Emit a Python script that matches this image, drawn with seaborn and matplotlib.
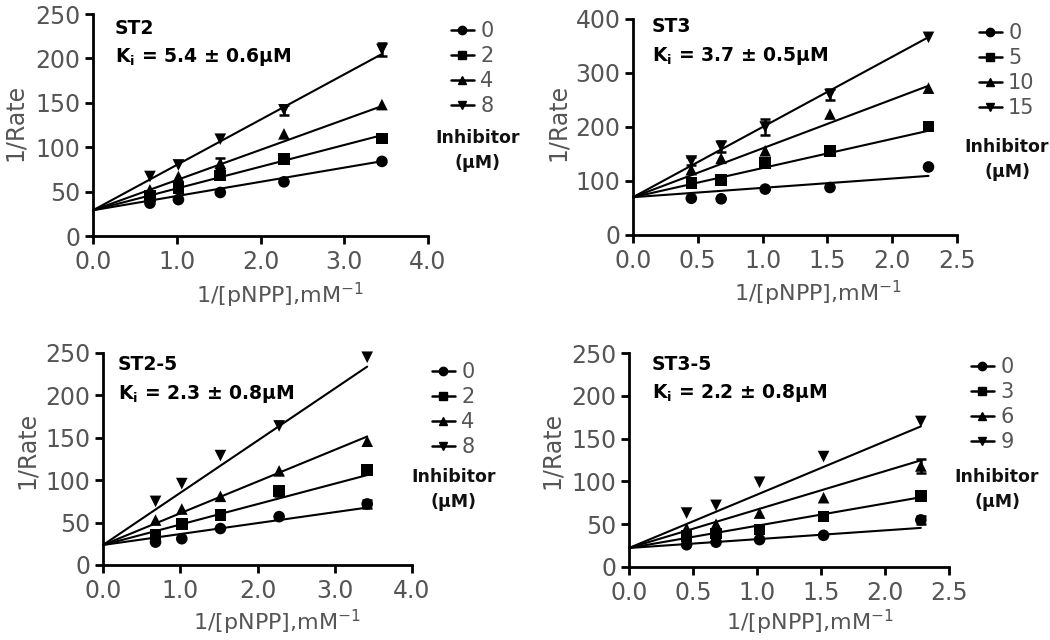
import numpy as np
import pandas as pd
import matplotlib
matplotlib.use("Agg")
import matplotlib.pyplot as plt
import seaborn as sns
from matplotlib.lines import Line2D

sns.set_theme(style="ticks")
plt.rcParams['font.family'] = ['DejaVu Sans']
plt.rcParams['mathtext.fontset'] = 'dejavusans'

# ---------------- data ----------------
st2_x = [0.68, 1.02, 1.52, 2.28, 3.45]
st2_conc = ["0", "2", "4", "8"]
st2_y0 = [37, 41, 49, 61, 84]
st2_y1 = [45, 54, 68, 87, 110]
st2_y2 = [52, 67, 82, 115, 148]
st2_y3 = [67, 80, 109, 142, 210]
st2_e0 = [0, 0, 0, 0, 0]
st2_e1 = [0, 0, 0, 0, 0]
st2_e2 = [0, 0, 6, 0, 0]
st2_e3 = [0, 0, 0, 6, 7]
st2_intercept = 29
st2_slopes = [16, 24.5, 34, 51]

st3_x = [0.45, 0.68, 1.02, 1.52, 2.28]
st3_conc = ["0", "5", "10", "15"]
st3_y0 = [68, 67, 85, 88, 126]
st3_y1 = [96, 102, 133, 156, 201]
st3_y2 = [121, 142, 156, 224, 272]
st3_y3 = [137, 164, 200, 260, 366]
st3_e0 = [0, 0, 0, 0, 0]
st3_e1 = [0, 0, 0, 0, 0]
st3_e2 = [0, 0, 0, 0, 0]
st3_e3 = [8, 10, 14, 10, 0]
st3_intercept = 70
st3_slopes = [17.3, 54, 90.5, 130]

st25_x = [0.68, 1.02, 1.52, 2.28, 3.42]
st25_conc = ["0", "2", "4", "8"]
st25_y0 = [27, 31, 43, 57, 72]
st25_y1 = [36, 48, 59, 87, 112]
st25_y2 = [53, 66, 81, 111, 146]
st25_y3 = [75, 96, 129, 164, 245]
st25_e0 = [0, 0, 0, 0, 5]
st25_e1 = [0, 0, 0, 6, 4]
st25_e2 = [0, 0, 0, 0, 0]
st25_e3 = [0, 0, 0, 0, 0]
st25_intercept = 23.6
st25_slopes = [12.9, 24.1, 37.4, 61.5]

st35_x = [0.45, 0.68, 1.02, 1.52, 2.28]
st35_conc = ["0", "3", "6", "9"]
st35_y0 = [26, 29, 32, 37, 55]
st35_y1 = [36, 39, 44, 59, 83]
st35_y2 = [45, 50, 63, 81, 118]
st35_y3 = [63, 72, 99, 129, 170]
st35_e0 = [0, 0, 0, 0, 5]
st35_e1 = [0, 0, 0, 0, 0]
st35_e2 = [0, 0, 0, 0, 8]
st35_e3 = [0, 0, 0, 0, 0]
st35_intercept = 22.2
st35_slopes = [10.3, 26, 44.9, 62.3]

titles = ["ST2", "ST3", "ST2-5", "ST3-5"]
ki_texts = ["5.4 ± 0.6μM", "3.7 ± 0.5μM", "2.3 ± 0.8μM", "2.2 ± 0.8μM"]
x_ticks_list = [[0.0, 1.0, 2.0, 3.0, 4.0], [0.0, 0.5, 1.0, 1.5, 2.0, 2.5],
                [0.0, 1.0, 2.0, 3.0, 4.0], [0.0, 0.5, 1.0, 1.5, 2.0, 2.5]]
y_ticks_list = [[0, 50, 100, 150, 200, 250], [0, 100, 200, 300, 400],
                [0, 50, 100, 150, 200, 250], [0, 50, 100, 150, 200, 250]]

panels = [
    (st2_x, st2_conc, [st2_y0, st2_y1, st2_y2, st2_y3], [st2_e0, st2_e1, st2_e2, st2_e3], st2_intercept, st2_slopes),
    (st3_x, st3_conc, [st3_y0, st3_y1, st3_y2, st3_y3], [st3_e0, st3_e1, st3_e2, st3_e3], st3_intercept, st3_slopes),
    (st25_x, st25_conc, [st25_y0, st25_y1, st25_y2, st25_y3], [st25_e0, st25_e1, st25_e2, st25_e3], st25_intercept, st25_slopes),
    (st35_x, st35_conc, [st35_y0, st35_y1, st35_y2, st35_y3], [st35_e0, st35_e1, st35_e2, st35_e3], st35_intercept, st35_slopes),
]

# ---------------- layout ----------------
W, H = 1050, 640
fig = plt.figure(figsize=(10.5, 6.4), dpi=100)
rects_px = [(93, 14, 428, 236), (633, 19, 957, 235), (103, 353, 412, 565), (629, 353, 949, 567)]
legend_px = [(451, 21), (979, 23), (432, 362), (971, 357)]
inhib_px = [(478, 138), (1007, 147), (454, 477), (997, 477)]
title_px = [(115, 28), (652, 27), (118, 365), (652, 364)]
xlabel_px = [(280, 295), (818, 293), (277, 622), (810, 622)]
ylabel_px = [(15, 122), (558, 122), (27, 450), (552, 450)]

markers = ['o', 's', '^', 'v']
grey = '#555555'

for i, (xs, conc, ys, es, b, slopes) in enumerate(panels):
    l, t, r, bt = rects_px[i]
    ax = fig.add_axes([l / W, 1 - bt / H, (r - l) / W, (bt - t) / H])
    rows = []
    for k in range(4):
        for xv, yv in zip(xs, ys[k]):
            rows.append({"x": xv, "y": yv, "conc": conc[k]})
    df = pd.DataFrame(rows)
    xmax = max(xs)
    line_rows = []
    for k in range(4):
        for xv in [0.0, xmax]:
            line_rows.append({"x": xv, "y": b + slopes[k] * xv, "conc": conc[k]})
    dl = pd.DataFrame(line_rows)
    sns.lineplot(data=dl, x="x", y="y", units="conc", estimator=None, color="black",
                 lw=1.5, ax=ax, legend=False, clip_on=False)
    sns.scatterplot(data=df, x="x", y="y", style="conc", markers=dict(zip(conc, markers)),
                    color="black", s=70, edgecolor="black", linewidth=0, ax=ax,
                    legend=False, clip_on=False, zorder=3)
    for k in range(4):
        ex = [xv for xv, e in zip(xs, es[k]) if e > 0]
        ey = [yv for yv, e in zip(ys[k], es[k]) if e > 0]
        ee = [e for e in es[k] if e > 0]
        if ex:
            ax.errorbar(ex, ey, yerr=ee, fmt='none', ecolor='black', elinewidth=1.8,
                        capsize=3.5, capthick=1.8, clip_on=False)
    ax.set_xlim(0, x_ticks_list[i][-1])
    ax.set_ylim(0, y_ticks_list[i][-1])
    ax.set_xticks(x_ticks_list[i])
    ax.set_xticklabels([f"{v:.1f}" for v in x_ticks_list[i]])
    ax.set_yticks(y_ticks_list[i])
    ax.set_yticklabels([str(v) for v in y_ticks_list[i]])
    sns.despine(ax=ax)
    for s in ['left', 'bottom']:
        ax.spines[s].set_linewidth(2.0)
        ax.spines[s].set_color('black')
    ax.tick_params(axis='both', direction='out', length=6, width=2.0, color='black',
                   labelsize=17, labelcolor=grey)
    ax.tick_params(axis='y', pad=3)
    ax.tick_params(axis='x', pad=4)
    ax.set_xlabel("1/[pNPP],mM$^{-1}$", fontsize=16, color=grey)
    ax.xaxis.label.set_va('center')
    xlx, xly = xlabel_px[i]
    ax.xaxis.set_label_coords((xlx - l) / (r - l), -(xly - bt) / (bt - t))
    ax.set_ylabel("1/Rate", fontsize=17, color=grey)
    ax.yaxis.label.set_va('center')
    ylx, yly = ylabel_px[i]
    ax.yaxis.set_label_coords((ylx - l) / (r - l), (bt - yly) / (bt - t))
    ax.set_facecolor('none')

    tx, ty = title_px[i]
    fig.text(tx / W, 1 - ty / H, titles[i], fontsize=13.5, fontweight='bold', color='black',
             va='center', ha='left')
    fig.text(tx / W, 1 - (ty + 29) / H, "K$_\\mathbf{i}$ = " + ki_texts[i], fontsize=13.5,
             fontweight='bold', color='black', va='center', ha='left')

    handles = [Line2D([], [], color='black', marker=m, ms=6, lw=1.8) for m in markers]
    lx, ly = legend_px[i]
    leg = fig.legend(handles, conc, loc='upper left', bbox_to_anchor=(lx / W, 1 - ly / H),
                     frameon=False, fontsize=15, handlelength=1.1, handletextpad=0.3,
                     labelspacing=0.24, borderpad=0, borderaxespad=0)
    for txt in leg.get_texts():
        txt.set_color(grey)
    ix, iy = inhib_px[i]
    fig.text(ix / W, 1 - iy / H, "Inhibitor", fontsize=12.5, fontweight='bold',
             ha='center', va='center', color='#111111')
    fig.text(ix / W, 1 - (iy + 25) / H, "(μM)", fontsize=12.5, fontweight='bold',
             ha='center', va='center', color='#111111')

fig.savefig("out.png", dpi=100)
